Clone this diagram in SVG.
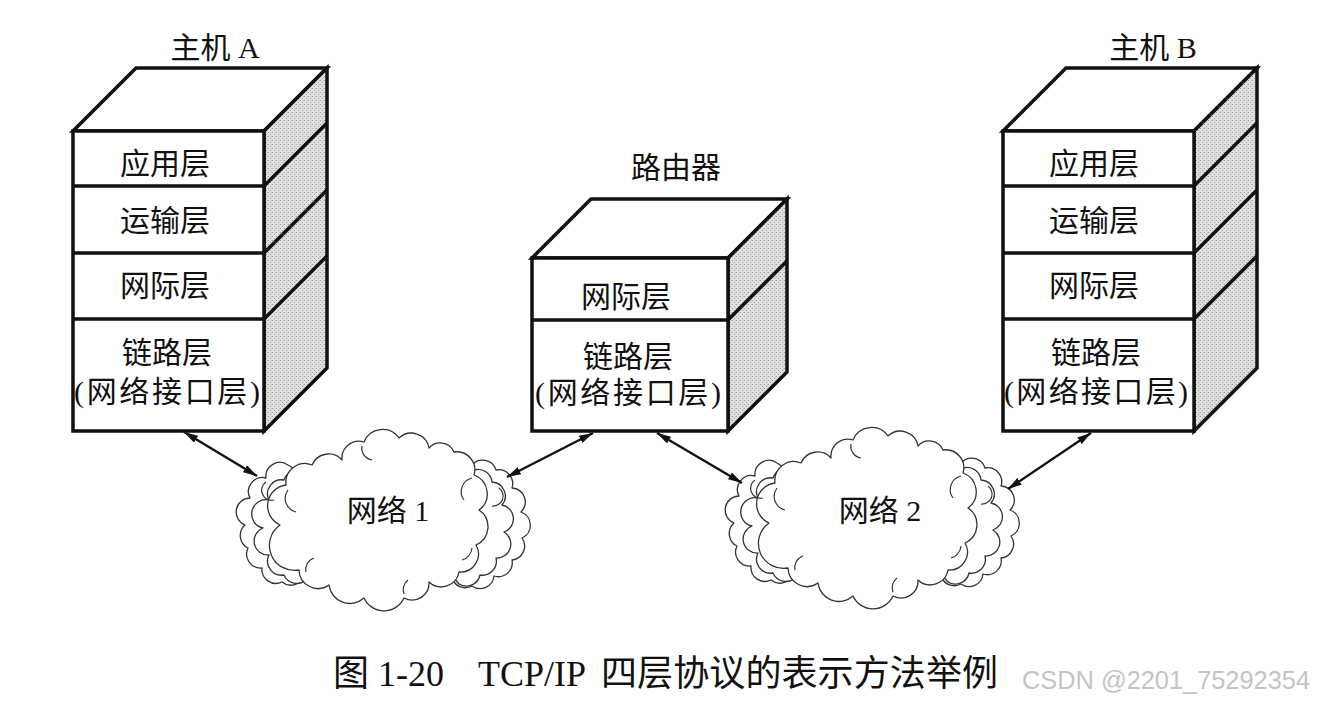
<svg xmlns="http://www.w3.org/2000/svg" width="1324" height="702" viewBox="0 0 1324 702">
<style>
.edge{fill:none;stroke:#111;stroke-width:3.5;stroke-linejoin:miter}
.top{fill:#fff;stroke:#111;stroke-width:3.5}
.side{fill:url(#stip);stroke:#111;stroke-width:3.5}
.front{fill:#fff;stroke:#111;stroke-width:3.5}
.lbl{font-family:"Liberation Serif","Noto Sans CJK SC",serif;font-size:30px;fill:#111;text-anchor:middle}
.cloud{fill:#fff;stroke:#333;stroke-width:1.3;stroke-linejoin:round}
.cin{fill:none;stroke:#333;stroke-width:1.2}
.conn{stroke:#111;stroke-width:2.4;fill:none;marker-start:url(#ah);marker-end:url(#ah)}
.cap{font-family:"Liberation Serif","Noto Sans CJK SC",serif;font-size:36px;fill:#111}
.wm{font-family:"Liberation Sans",Arial,sans-serif;font-size:26px;fill:#c4c4c4}
</style>
<defs>
<pattern id="stip" width="4" height="4" patternUnits="userSpaceOnUse">
<rect width="4" height="4" fill="#e0e0e0"/>
<rect x="0" y="0" width="1" height="1" fill="#a0a0a0"/>
<rect x="2" y="2" width="1" height="1" fill="#a0a0a0"/>
<rect x="3" y="0" width="1" height="1" fill="#c0c0c0"/>
</pattern>
<marker id="ah" viewBox="0 0 14 8" refX="14" refY="4" markerWidth="14" markerHeight="8" markerUnits="userSpaceOnUse" orient="auto-start-reverse">
<path d="M0,0 L14,4 L0,8 z" fill="#111"/>
</marker>
<g id="cloudshape">
<path class="cloud" d="M-139,5 A14 14 0 0 1 -134,-22 A14 14 0 0 1 -118,-42 A14 14 0 0 1 -96,-55 L-80,-45 L80,-45 L88,-55 A14 14 0 0 1 112,-50 A14 14 0 0 1 128,-32 A14 14 0 0 1 137,-8 A14 14 0 0 1 138,18 A14 14 0 0 1 128,40 A14 14 0 0 1 110,56 A14 14 0 0 1 88,66 A14 14 0 0 1 70,62 L55,40 L-60,40 L-80,56 A14 14 0 0 1 -102,62 A14 14 0 0 1 -122,48 A14 14 0 0 1 -136,28 A14 14 0 0 1 -139,5 Z"/>
<path class="cloud" d="M-121,8 A14 14 0 0 1 -115,-20 A14 14 0 0 1 -100,-40 A14 14 0 0 1 -88,-50 L-70,-40 L70,-40 L90,-50 A14 14 0 0 1 108,-38 A14 14 0 0 1 118,-15 A14 14 0 0 1 120,12 A14 14 0 0 1 112,38 A14 14 0 0 1 96,55 A14 14 0 0 1 75,64 L55,40 L-60,40 L-78,60 A14 14 0 0 1 -100,55 A14 14 0 0 1 -115,35 A14 14 0 0 1 -121,8 Z"/>
<path class="cloud" d="M-104,5 A21 21 0 0 1 -98,-35 A19 19 0 0 1 -72,-55 A18 18 0 0 1 -42,-60 A17 17 0 0 1 -20,-78 A20 20 0 0 1 15,-82 A18 18 0 0 1 45,-72 A15 15 0 0 1 70,-68 A18 18 0 0 1 90,-45 A20 20 0 0 1 95,-10 A20 20 0 0 1 92,25 A18 18 0 0 1 75,52 A18 18 0 0 1 45,62 A17 17 0 0 1 20,78 A22 22 0 0 1 -20,78 A21 21 0 0 1 -55,65 A19 19 0 0 1 -85,50 A25 25 0 0 1 -104,5 Z"/>
<path class="cin" d="M-96,-30 A14 14 0 0 0 -88,-8"/>
<path class="cin" d="M-78,52 A12 12 0 0 1 -70,38"/>
<path class="cin" d="M88,-42 A14 14 0 0 0 80,-20"/>
<path class="cin" d="M88,28 A14 14 0 0 1 78,40"/>
<path class="cin" d="M-22,-74 A12 12 0 0 0 -12,-60"/>
<path class="cin" d="M20,74 A12 12 0 0 1 24,60"/>
<path class="cin" d="M-118,-38 A10 10 0 0 0 -110,-20"/>
<path class="cin" d="M115,-32 A10 10 0 0 1 108,-14"/>
</g>
</defs>

<g id="hostA">
<polygon class="top" points="73,131 136,68 327,68 264,131"/>
<polygon class="side" points="264,131 327,68 327,368 264,431"/>
<rect class="front" x="73" y="131" width="191" height="300"/>
<path class="edge" d="M73,186 H264 L327,123 M73,253 H264 L327,190 M73,319 H264 L327,256"/>
<text class="lbl" x="215" y="58">主机 A</text>
<text class="lbl" x="165" y="174">应用层</text>
<text class="lbl" x="165" y="231">运输层</text>
<text class="lbl" x="165" y="296">网际层</text>
<text class="lbl" x="167" y="363">链路层</text>
<text class="lbl" x="167" y="402" textLength="186" lengthAdjust="spacing">(网络接口层)</text>
</g>

<g id="router">
<polygon class="top" points="532,258 591,199 787,199 728,258"/>
<polygon class="side" points="728,258 787,199 787,372 728,431"/>
<rect class="front" x="532" y="258" width="196" height="173"/>
<path class="edge" d="M532,320 H728 L787,261"/>
<text class="lbl" x="676" y="178">路由器</text>
<text class="lbl" x="626" y="307">网际层</text>
<text class="lbl" x="628" y="367">链路层</text>
<text class="lbl" x="628" y="403" textLength="186" lengthAdjust="spacing">(网络接口层)</text>
</g>

<g id="hostB">
<polygon class="top" points="1003,131 1066,68 1257,68 1194,131"/>
<polygon class="side" points="1194,131 1257,68 1257,368 1194,431"/>
<rect class="front" x="1003" y="131" width="191" height="300"/>
<path class="edge" d="M1003,186 H1194 L1257,123 M1003,253 H1194 L1257,190 M1003,319 H1194 L1257,256"/>
<text class="lbl" x="1153" y="58">主机 B</text>
<text class="lbl" x="1094" y="174">应用层</text>
<text class="lbl" x="1094" y="231">运输层</text>
<text class="lbl" x="1094" y="296">网际层</text>
<text class="lbl" x="1096" y="363">链路层</text>
<text class="lbl" x="1096" y="402" textLength="184" lengthAdjust="spacing">(网络接口层)</text>
</g>

<g id="net1">
<use href="#cloudshape" transform="translate(384,520)"/>
<text class="lbl" x="388" y="521">网络 1</text>
</g>

<g id="net2">
<use href="#cloudshape" transform="translate(873,518)"/>
<text class="lbl" x="880" y="521">网络 2</text>
</g>

<g id="connectors">
<line class="conn" x1="184" y1="432" x2="257" y2="476"/>
<line class="conn" x1="593" y1="433" x2="507" y2="477"/>
<line class="conn" x1="657" y1="433" x2="742" y2="483"/>
<line class="conn" x1="1091" y1="433" x2="1008" y2="489"/>
</g>

<g id="caption">
<text class="cap" x="333" y="686">图 1-20</text>
<text class="cap" x="478" y="686">TCP/IP</text>
<text class="cap" x="601" y="686" font-size="38" textLength="397" lengthAdjust="spacing">四层协议的表示方法举例</text>
<text class="wm" x="1022" y="689" textLength="288" lengthAdjust="spacingAndGlyphs">CSDN @2201_75292354</text>
</g>
</svg>
